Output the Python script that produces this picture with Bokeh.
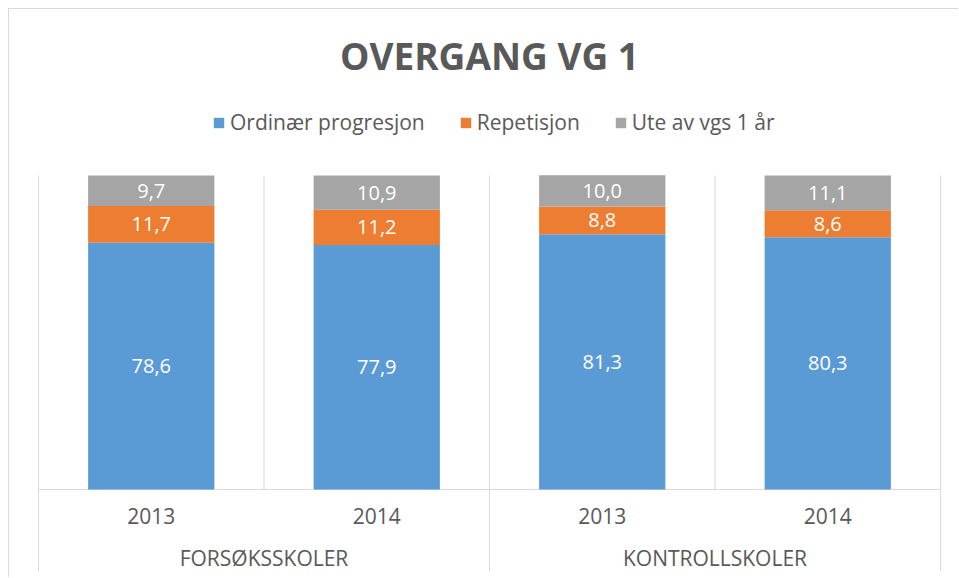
from bokeh.plotting import figure
from bokeh.models import FactorRange, Range1d, ColumnDataSource, Legend, LegendItem
from bokeh.core.properties import value
from bokeh.embed import file_html
from bokeh.resources import INLINE

# ---------------- data ----------------
title_text = "OVERGANG VG 1"
groups = ["FORSØKSSKOLER", "FORSØKSSKOLER", "KONTROLLSKOLER", "KONTROLLSKOLER"]
years = ["2013", "2014", "2013", "2014"]
series_names = ["Ordinær progresjon", "Repetisjon", "Ute av vgs 1 år"]
ordinaer = [78.6, 77.9, 81.3, 80.3]
repetisjon = [11.7, 11.2, 8.8, 8.6]
ute = [9.7, 10.9, 10.0, 11.1]
colors = ["#5B9BD5", "#ED7D31", "#A5A5A5"]

# ---------------- layout config ----------------
W, H = 950, 569
TOP_PX, ZERO_PX = 166, 480          # pixel rows of 100 % and 0 %
ppu = (ZERO_PX - TOP_PX) / 100.0
y_top = 100 + TOP_PX / ppu
y_bot = -(H - ZERO_PX) / ppu
TEXT = "#595959"
GRID = "#D9D9D9"
FONT = "Open Sans"

def y_at(px):
    return y_top - px / ppu

factors = list(zip(groups, years))
x_range = FactorRange(*factors, factor_padding=0, group_padding=0,
                      range_padding=4 / 225.5, range_padding_units="absolute")

p = figure(x_range=x_range, y_range=Range1d(y_bot, y_top), width=W, height=H,
           x_axis_location=None, y_axis_location=None,
           output_backend="svg", toolbar_location=None,
           min_border_left=25, min_border_right=15, min_border_top=0, min_border_bottom=0)
p.outline_line_color = None
p.grid.visible = False
p.background_fill_color = "white"
p.border_fill_color = "white"
p.styles = {"margin-left": "8px", "margin-top": "8px",
            "border-left": "1px solid #D9D9D9", "border-top": "1px solid #D9D9D9"}

# ---------------- separators & axis line ----------------
long_x, short_x = [], []
for i, f in enumerate(factors):
    edge = (f[0], f[1], -0.5)
    if i == 0 or factors[i - 1][0] != f[0]:
        long_x.append(edge)
    else:
        short_x.append(edge)
long_x.append((factors[-1][0], factors[-1][1], 0.5))

p.segment(x0="x", y0=100, x1="x", y1=y_at(562), source=ColumnDataSource(dict(x=long_x)),
          line_color=GRID, line_width=1)
p.segment(x0="x", y0=100, x1="x", y1=0, source=ColumnDataSource(dict(x=short_x)),
          line_color=GRID, line_width=1)
p.segment(x0=[long_x[0]], y0=[0], x1=[long_x[-1]], y1=[0], line_color=GRID, line_width=1)

# ---------------- bars ----------------
src = ColumnDataSource(dict(x=factors, o=ordinaer, r=repetisjon, u=ute))
rs = p.vbar_stack(["o", "r", "u"], x="x", width=0.56, source=src,
                  fill_color=colors, line_color=None)

# ---------------- data labels ----------------
lab_x, lab_y, lab_t = [], [], []
for i, f in enumerate(factors):
    base = 0
    for vals in (ordinaer, repetisjon, ute):
        v = vals[i]
        lab_x.append(f)
        lab_y.append(base + v / 2)
        lab_t.append(f"{v:.1f}".replace(".", ","))
        base += v
p.text(x="x", y="y", text="t", source=ColumnDataSource(dict(x=lab_x, y=lab_y, t=lab_t)),
       text_color="white", text_font=value(FONT), text_font_size="20px",
       text_align="center", text_baseline="middle")

# ---------------- category labels ----------------
p.text(x=factors, y=[y_at(506.5)] * len(factors), text=years,
       text_color=TEXT, text_font=value(FONT), text_font_size="21px",
       text_align="center", text_baseline="middle")
group_names = list(dict.fromkeys(groups))
group_x = []
for g in group_names:
    members = [f for f in factors if f[0] == g]
    group_x.append((members[0][0], members[0][1], 0.5) if len(members) == 2 else members[0])
p.text(x=group_x, y=[y_at(548.5)] * len(group_x), text=group_names,
       text_color=TEXT, text_font=value(FONT), text_font_size="21px",
       text_align="center", text_baseline="middle")

# ---------------- title ----------------
p.text(x=[(factors[1][0], factors[1][1], 0.5)], y=[y_at(45.7)], text=[title_text],
       text_color=TEXT, text_font=value(FONT), text_font_size="37px",
       text_font_style="bold", text_align="center", text_baseline="middle")

# ---------------- legend ----------------
legend = Legend(items=[LegendItem(label=n, renderers=[r]) for n, r in zip(series_names, rs)],
                orientation="horizontal", location=(178, 442),
                glyph_width=13, glyph_height=13, label_height=24, label_standoff=5,
                spacing=34, padding=0, margin=0,
                label_text_font=FONT, label_text_font_size="21px", label_text_color=TEXT,
                border_line_color=None, background_fill_alpha=0)
p.add_layout(legend)

open("out.html", "w").write(file_html(p, INLINE))
